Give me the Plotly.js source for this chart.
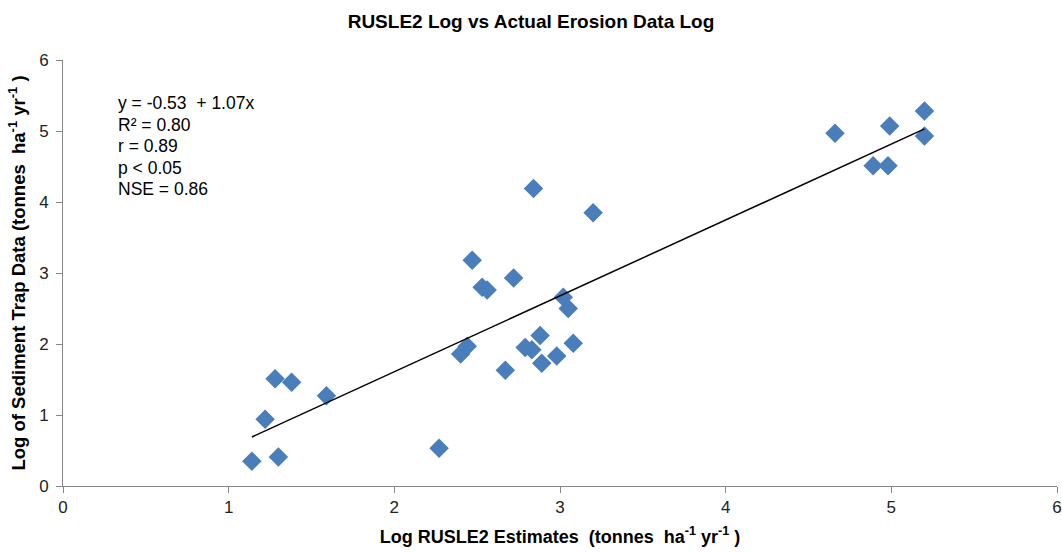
<!DOCTYPE html>
<html>
<head>
<meta charset="utf-8">
<script src="https://cdn.plot.ly/plotly-3.0.1.min.js"></script>
<style>html,body{margin:0;padding:0;background:#fff;}#chart{width:1062px;height:553px;}</style>
</head>
<body>
<div id="chart"></div>
<script>
const rusleLog = [1.14,1.22,1.28,1.30,1.38,1.59,2.27,2.40,2.44,2.47,2.53,2.56,2.67,2.72,2.79,2.83,2.84,2.88,2.89,2.98,3.02,3.05,3.08,3.20,4.66,4.89,4.98,4.99,5.20,5.20];
const trapLog  = [0.35,0.94,1.51,0.41,1.46,1.27,0.53,1.86,1.97,3.18,2.80,2.76,1.63,2.93,1.95,1.92,4.19,2.12,1.73,1.83,2.66,2.50,2.01,3.85,4.97,4.51,4.51,5.07,5.28,4.93];
const fitX = [1.14, 5.20];
const fitY = [0.69, 5.03];
const statsLines = ["y = -0.53  + 1.07x", "R² = 0.80", "r = 0.89", "p < 0.05", "NSE = 0.86"];
const xTicks = [0,1,2,3,4,5,6];
const yTicks = [0,1,2,3,4,5,6];

const sans = '"Liberation Sans", Arial, sans-serif';

const traces = [
  {x: rusleLog, y: trapLog, type:'scatter', mode:'markers',
   marker:{symbol:'diamond', size:15, color:'#4A7EBB', line:{width:0}}, hoverinfo:'x+y'},
  {x: fitX, y: fitY, type:'scatter', mode:'lines', line:{color:'#000', width:1.5}, hoverinfo:'skip'}
];

const layout = {
  width:1062, height:553,
  margin:{l:63, r:5, t:60, b:67},
  paper_bgcolor:'#fff', plot_bgcolor:'#fff',
  showlegend:false,
  title:{text:'RUSLE2 Log vs Actual Erosion Data Log', font:{family:sans, size:19, color:'#000', weight:'bold'}, x:0.5, xanchor:'center', y:0.962, yanchor:'middle'},
  xaxis:{range:[0,6], tickvals:xTicks, ticktext:xTicks.map(String), showgrid:false, zeroline:false,
    showline:true, linecolor:'#868686', linewidth:1, ticks:'outside', ticklen:6, tickcolor:'#868686',
    tickfont:{family:sans, size:17, color:'#222'},
    title:{text:'Log RUSLE2 Estimates  (tonnes  ha<sup>-1</sup> yr<sup>-1</sup> )', font:{family:sans, size:18, color:'#000', weight:'bold'}, standoff:13}},
  yaxis:{range:[0,6], tickvals:yTicks, ticktext:yTicks.map(String), showgrid:false, zeroline:false,
    showline:true, linecolor:'#868686', linewidth:1, ticks:'outside', ticklen:6, tickcolor:'#868686',
    tickfont:{family:sans, size:17, color:'#222'}, ticklabelstandoff:4,
    title:{text:'Log of Sediment Trap Data (tonnes  ha<sup>-1</sup> yr<sup>-1</sup> )', font:{family:sans, size:18.5, color:'#000', weight:'bold'}, standoff:8}},
  annotations: statsLines.map((t,i)=>({text:t, xref:'paper', yref:'paper', x:(116-63)/994, y:(486-103-i*21.5)/426,
    xanchor:'left', yanchor:'middle', showarrow:false, align:'left', font:{family:sans, size:17.5, color:'#000'}}))
};

Plotly.newPlot('chart', traces, layout, {displayModeBar:false, staticPlot:true});
</script>
</body>
</html>
